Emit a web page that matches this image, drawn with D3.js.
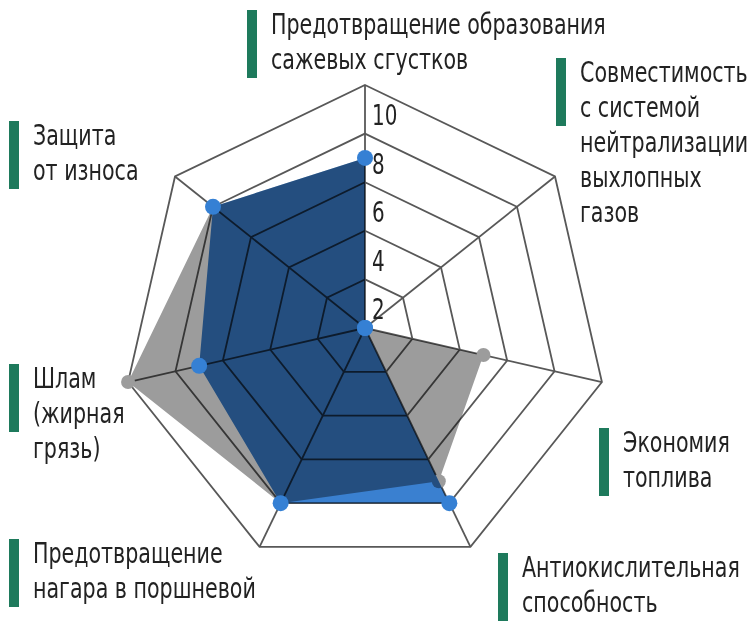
<!DOCTYPE html>
<html>
<head>
<meta charset="utf-8">
<script src="https://cdn.jsdelivr.net/npm/d3@7"></script>
<style>
  body { margin:0; background:#fff; }
  svg { display:block; background:#fff; }
  text { font-family:"DejaVu Sans Condensed","DejaVu Sans",sans-serif; fill:#222; }
</style>
</head>
<body>
<svg id="radar"></svg>
<script>

// categories (clockwise from top)
var categories = [
  ["Предотвращение образования", "сажевых сгустков"],
  ["Совместимость", "с системой", "нейтрализации", "выхлопных", "газов"],
  ["Экономия", "топлива"],
  ["Антиокислительная", "способность"],
  ["Предотвращение", "нагара в поршневой"],
  ["Шлам", "(жирная", "грязь)"],
  ["Защита", "от износа"]
];

// series values
var blueValues = [7, 0, 0, 8, 8, 7, 8];
var greyValues = [7, 0, 5, 7, 8, 10, 8];

// tick labels
var ticks = [2, 4, 6, 8, 10];

// label layout: bar left x, first baseline y
var labelPos = [
  {x:247, y:34},
  {x:556, y:82},
  {x:599, y:452},
  {x:498, y:577},
  {x:9,   y:563},
  {x:9,   y:388},
  {x:9,   y:145}
];

var screen = {width:750, height:628};
var center = {x:365, y:328};
var outerR = 243;
var n = categories.length;
var squeeze = 0.79;   // narrow the font horizontally

var svg = d3.select("#radar")
    .attr("width", screen.width)
    .attr("height", screen.height);

var rScale = d3.scaleLinear().domain([0, 10]).range([0, outerR]);
var angle = function(i) { return i * 2 * Math.PI / n; };

var px = function(i, v) { return rScale(v) * Math.sin(angle(i)); };
var py = function(i, v) { return -rScale(v) * Math.cos(angle(i)); };

var g = svg.append("g")
    .attr("transform", "translate(" + center.x + "," + center.y + ")");

var radial = d3.lineRadial()
    .angle(function(d, i) { return angle(i); })
    .radius(function(d) { return rScale(d); })
    .curve(d3.curveLinearClosed);

// grid rings
g.selectAll(".ring")
    .data(ticks)
    .enter()
    .append("path")
    .attr("class", "ring")
    .attr("d", function(t) { return radial(d3.range(n).map(function() { return t; })); })
    .attr("fill", "none")
    .attr("stroke", "#585858")
    .attr("stroke-width", 1.8);

// spokes
g.selectAll(".spoke")
    .data(d3.range(n))
    .enter()
    .append("line")
    .attr("class", "spoke")
    .attr("x1", 0).attr("y1", 0)
    .attr("x2", function(i) { return px(i, 10); })
    .attr("y2", function(i) { return py(i, 10); })
    .attr("stroke", "#585858")
    .attr("stroke-width", 1.8);

// grey series
g.append("path")
    .datum(greyValues)
    .attr("d", radial)
    .attr("fill", "#9c9c9c")
    .style("mix-blend-mode", "multiply");

g.selectAll(".greyDot")
    .data(greyValues)
    .enter()
    .append("circle")
    .attr("cx", function(d, i) { return px(i, d); })
    .attr("cy", function(d, i) { return py(i, d); })
    .attr("r", 7)
    .attr("fill", "#9c9c9c");

// blue series
g.append("path")
    .datum(blueValues)
    .attr("d", radial)
    .attr("fill", "#3a80d0")
    .style("mix-blend-mode", "multiply");

g.selectAll(".blueDot")
    .data(blueValues)
    .enter()
    .append("circle")
    .attr("cx", function(d, i) { return px(i, d); })
    .attr("cy", function(d, i) { return py(i, d); })
    .attr("r", 8)
    .attr("fill", "#3580d4");

// tick labels along top axis
svg.selectAll(".tick")
    .data(ticks)
    .enter()
    .append("text")
    .attr("class", "tick")
    .attr("transform", function(t) {
        return "translate(" + (center.x + 7) + "," + (center.y + py(0, t) + 40) + ") scale(" + squeeze + ",1)";
    })
    .attr("font-size", 28)
    .text(function(t) { return t; });

// category labels
var labels = svg.selectAll(".label")
    .data(categories)
    .enter()
    .append("g")
    .attr("class", "label")
    .attr("transform", function(d, i) { return "translate(" + labelPos[i].x + "," + labelPos[i].y + ")"; });

labels.append("rect")
    .attr("x", 0)
    .attr("y", -24)
    .attr("width", 10)
    .attr("height", 68)
    .attr("fill", "#1e7a5c");

labels.each(function(lines) {
    var t = d3.select(this).append("text")
        .attr("transform", "translate(24,0) scale(" + squeeze + ",1)")
        .attr("font-size", 29);
    t.selectAll("tspan")
        .data(lines)
        .enter()
        .append("tspan")
        .attr("x", 0)
        .attr("y", function(d, k) { return k * 35; })
        .text(function(d) { return d; });
});

</script>
</body>
</html>
